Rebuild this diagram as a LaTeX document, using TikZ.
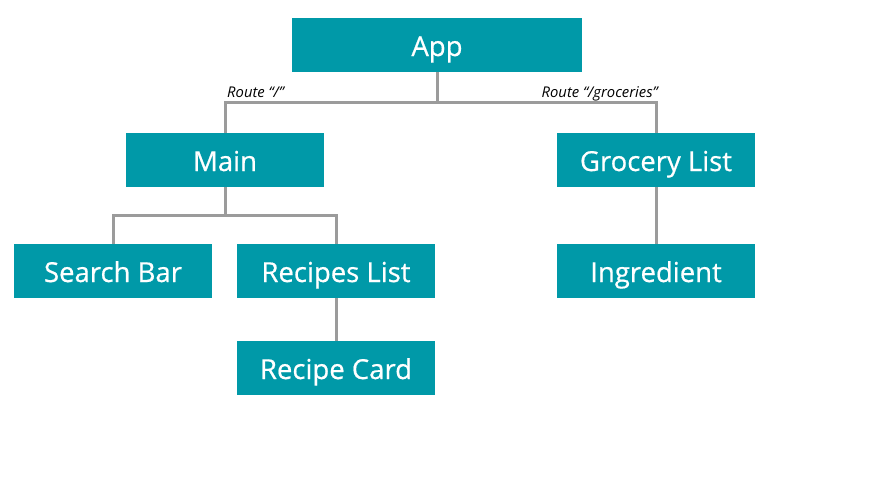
\documentclass[tikz,border=0pt]{standalone}
\usepackage{fontspec}
\setmainfont{Open Sans}
\newfontfamily\boxfont[FakeBold=0.6]{Open Sans}
\definecolor{teal1}{HTML}{0099A8}
\definecolor{line1}{HTML}{9B9B9B}
\begin{document}
\begin{tikzpicture}[x=1pt,y=-1pt,
  box/.style={fill=teal1,draw=none,minimum width=198pt,minimum height=54pt,inner sep=0pt,text=white,text height=22pt,text depth=0pt,font=\boxfont\fontsize{27.5}{30}\selectfont},
  conn/.style={draw=line1,line width=3pt},
  lbl/.style={font=\fontsize{14.8}{16}\selectfont\itshape,inner sep=0pt}]
\useasboundingbox (0,0) rectangle (874,483);
\node[box,minimum width=290pt] (app) at (437,45) {App};
\node[box] (main) at (225,160) {Main};
\node[box] (groc) at (656,160) {Grocery List};
\node[box] (search) at (113,271) {Search Bar};
\node[box] (recipes) at (336,271) {Recipes List};
\node[box] (ingr) at (656,271) {Ingredient};
\node[box] (card) at (336,368) {Recipe Card};
\coordinate (j1) at (437,102);
\coordinate (j2) at (225,215);
\draw[conn] (app.south) -- (j1);
\draw[conn] (main.north) |- (j1) -| (groc.north);
\draw[conn] (main.south) -- (j2);
\draw[conn] (search.north) |- (j2) -| (recipes.north);
\draw[conn] (recipes.south) -- (card.north);
\draw[conn] (groc.south) -- (ingr.north);
\node[lbl,anchor=base west] (l1) at (227,97) {Route “/”};
\node[lbl,anchor=base east] (l2) at (658,97) {Route “/groceries”};
\end{tikzpicture}
\end{document}
